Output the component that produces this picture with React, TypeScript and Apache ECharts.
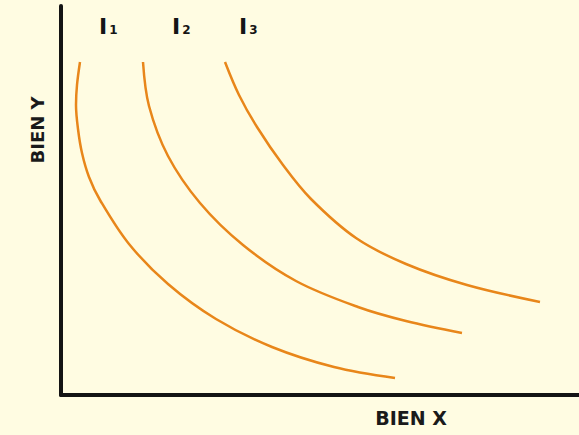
import React, { useEffect, useRef } from "react";
import * as echarts from "echarts";

const curveNames = ["1", "2", "3"];
const curveI1: [number, number][] = [
  [19, 333], [16, 310], [15, 290], [17, 266], [21, 242], [28, 218], [39, 195], [68, 151],
  [107, 111], [155, 76], [211, 48], [273, 28], [334, 17],
];
const curveI2: [number, number][] = [
  [82, 333], [88, 289], [107, 239], [139, 192], [182, 150], [235, 114], [297, 88], [345, 74], [401, 62],
];
const curveI3: [number, number][] = [
  [164, 333], [178, 300], [196, 268], [222, 230], [250, 196], [295, 157], [345, 131], [406, 110], [479, 93],
];
const curves = [curveI1, curveI2, curveI3];
const xTitle = "BIEN X";
const yTitle = "BIEN Y";
const labelLefts = [99, 172, 239];

export default function App() {
  const ref = useRef<HTMLDivElement>(null);
  useEffect(() => {
    document.body.style.margin = "0";
    const chart = echarts.init(ref.current!, undefined, { renderer: "svg" });
    const axisCommon = {
      type: "value" as const,
      min: 0,
      axisLine: { show: true, lineStyle: { color: "#141414", width: 4 } },
      axisTick: { show: false },
      axisLabel: { show: false },
      splitLine: { show: false },
    };
    chart.setOption({
      animation: false,
      backgroundColor: "#FFFCE2",
      grid: { left: 61, right: 0, top: 6, bottom: 40 },
      xAxis: { ...axisCommon, max: 518 },
      yAxis: { ...axisCommon, max: 389 },
      series: curves.map((d, i) => ({
        type: "line",
        name: "I" + curveNames[i],
        data: d,
        smooth: 0.35,
        showSymbol: false,
        lineStyle: { color: "#E8861A", width: 2.5 },
      })),
      graphic: [
        ...curveNames.map((n, i) => ({
          type: "text",
          left: labelLefts[i],
          top: 15,
          style: {
            text: "{i|I}{s|" + n + "}",
            rich: {
              i: { fontSize: 22, fontWeight: 900, fontFamily: "DejaVu Sans", fill: "#151515" },
              s: { fontSize: 12, fontWeight: 900, fontFamily: "DejaVu Sans", fill: "#151515", padding: [8, 0, 0, 2] },
            },
          },
        })),
        {
          type: "text",
          x: 411,
          y: 418,
          style: {
            text: xTitle,
            align: "center",
            verticalAlign: "middle",
            font: "bold 19px 'DejaVu Sans'",
            fill: "#1a1a1a",
          },
        },
        {
          type: "text",
          x: 37,
          y: 130,
          rotation: Math.PI / 2,
          style: {
            text: yTitle,
            align: "center",
            verticalAlign: "middle",
            font: "bold 18px 'DejaVu Sans'",
            fill: "#1a1a1a",
          },
        },
      ],
    });
    return () => chart.dispose();
  }, []);
  return <div ref={ref} style={{ width: 579, height: 435 }} />;
}
